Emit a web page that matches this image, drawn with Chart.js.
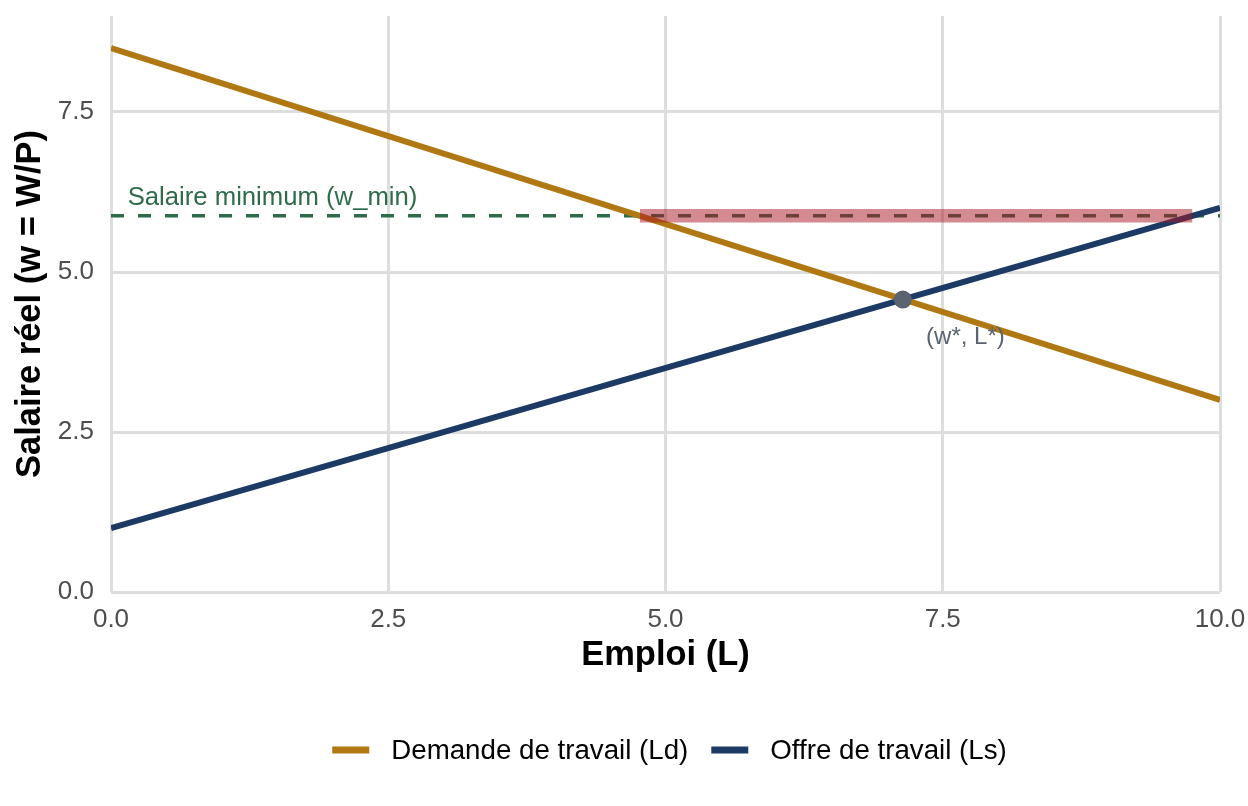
<!DOCTYPE html>
<html lang="fr">
<head>
<meta charset="utf-8">
<title>Marché du travail et salaire minimum</title>
<script src="https://cdn.jsdelivr.net/npm/chart.js@4.4.1/dist/chart.umd.min.js"></script>
<style>
  html, body { margin: 0; padding: 0; background: #fff; }
  canvas { display: block; }
</style>
</head>
<body>
<canvas id="graphique" width="1248" height="806"></canvas>
<script>
// Valeurs
const emploi = [0, 10];
const demande = [8.5, 3.0];
const offre = [1.0, 6.0];
const salaireMin = 5.88;
const bandeChomage = [4.77, 9.75];
const equilibre = { x: 7.14, y: 4.57 };
const ticksX = [0, 2.5, 5, 7.5, 10];
const ticksY = [0, 2.5, 5, 7.5];

const POLICE = '"Liberation Sans", Arial, Helvetica, sans-serif';
const OR = '#B07813';
const BLEU = '#1C3A64';
const VERT = '#2E6B4A';
const GRIS = '#5A6370';

const enPoints = (xs, ys) => xs.map((x, i) => ({ x, y: ys[i] }));

// Annotations + légende dessinées sur les échelles du graphique
const annotations = {
    id: 'annotations',
    afterDatasetsDraw(chart) {
        const { ctx, scales: { x, y } } = chart;
        ctx.save();
        ctx.textAlign = 'left';
        ctx.textBaseline = 'alphabetic';
        ctx.font = `25.7px ${POLICE}`;
        ctx.fillStyle = VERT;
        ctx.fillText('Salaire minimum (w_min)', x.getPixelForValue(0.15), y.getPixelForValue(salaireMin + 0.16));
        ctx.font = `24px ${POLICE}`;
        ctx.fillStyle = GRIS;
        ctx.fillText('(w*, L*)', x.getPixelForValue(equilibre.x + 0.21), y.getPixelForValue(equilibre.y - 0.70));
        ctx.restore();
    },
    afterDraw(chart) {
        const { ctx, chartArea } = chart;
        const items = chart.data.datasets.filter(d => d.legende);
        const boxW = 37, gap = 22, spacing = 23, cy = 750;
        ctx.save();
        ctx.font = `27.7px ${POLICE}`;
        const widths = items.map(d => boxW + gap + ctx.measureText(d.label).width);
        const total = widths.reduce((a, b) => a + b, 0) + spacing * (items.length - 1);
        let cx = (chartArea.left + chartArea.right) / 2 + 4 - total / 2;
        items.forEach((d, i) => {
            ctx.fillStyle = d.borderColor;
            ctx.fillRect(cx, cy - 3.5, boxW, 7);
            ctx.fillStyle = '#000';
            ctx.textAlign = 'left';
            ctx.textBaseline = 'middle';
            ctx.fillText(d.label, cx + boxW + gap, cy + 1);
            cx += widths[i] + spacing;
        });
        ctx.restore();
    }
};

new Chart(document.getElementById('graphique'), {
    type: 'line',
    data: {
        datasets: [
            {
                label: 'Équilibre',
                type: 'scatter',
                data: [equilibre],
                backgroundColor: GRIS,
                borderWidth: 0,
                pointRadius: 9,
                order: 0
            },
            {
                label: 'Écart',
                data: enPoints(bandeChomage, [salaireMin, salaireMin]),
                borderColor: 'rgba(170, 22, 36, 0.5)',
                borderWidth: 13.5,
                borderCapStyle: 'butt',
                pointRadius: 0,
                order: 1
            },
            {
                label: 'Demande de travail (Ld)',
                legende: true,
                data: enPoints(emploi, demande),
                borderColor: OR,
                backgroundColor: OR,
                borderWidth: 6,
                pointRadius: 0,
                order: 2
            },
            {
                label: 'Offre de travail (Ls)',
                legende: true,
                data: enPoints(emploi, offre),
                borderColor: BLEU,
                backgroundColor: BLEU,
                borderWidth: 6,
                pointRadius: 0,
                order: 3
            },
            {
                label: 'Salaire minimum',
                data: enPoints(emploi, [salaireMin, salaireMin]),
                borderColor: VERT,
                borderWidth: 3.5,
                borderDash: [13, 14],
                pointRadius: 0,
                order: 4
            }
        ]
    },
    options: {
        responsive: false,
        animation: false,
        devicePixelRatio: 1,
        layout: { padding: { left: 0, right: 28, top: 16, bottom: 0 } },
        plugins: {
            legend: { display: false },
            tooltip: { enabled: false }
        },
        scales: {
            x: {
                type: 'linear',
                min: 0,
                max: 10,
                afterBuildTicks: s => { s.ticks = ticksX.map(v => ({ value: v })); },
                afterFit: s => { s.height = 214; s.paddingLeft = 0; s.paddingRight = 0; },
                grid: { color: '#DDDDDD', lineWidth: 3, drawTicks: false },
                border: { display: false },
                ticks: {
                    padding: 12,
                    color: '#4D4D4D',
                    font: { family: POLICE, size: 26 },
                    callback: v => v.toFixed(1)
                },
                title: {
                    display: true,
                    text: 'Emploi (L)',
                    color: '#000',
                    font: { family: POLICE, size: 34.5, weight: 'bold' },
                    padding: { top: 0, bottom: 130 }
                }
            },
            y: {
                min: 0,
                max: 9,
                afterBuildTicks: s => { s.ticks = ticksY.map(v => ({ value: v })); },
                afterFit: s => { s.width = 111; s.paddingTop = 0; s.paddingBottom = 0; },
                grid: { color: '#DDDDDD', lineWidth: 3, drawTicks: false },
                border: { display: false },
                ticks: {
                    padding: 17,
                    color: '#4D4D4D',
                    font: { family: POLICE, size: 26 },
                    callback: v => v.toFixed(1)
                },
                title: {
                    display: true,
                    text: 'Salaire réel (w = W/P)',
                    color: '#000',
                    font: { family: POLICE, size: 34.5, weight: 'bold' },
                    padding: { top: 10, bottom: 0 }
                }
            }
        }
    },
    plugins: [annotations]
});
</script>
</body>
</html>
